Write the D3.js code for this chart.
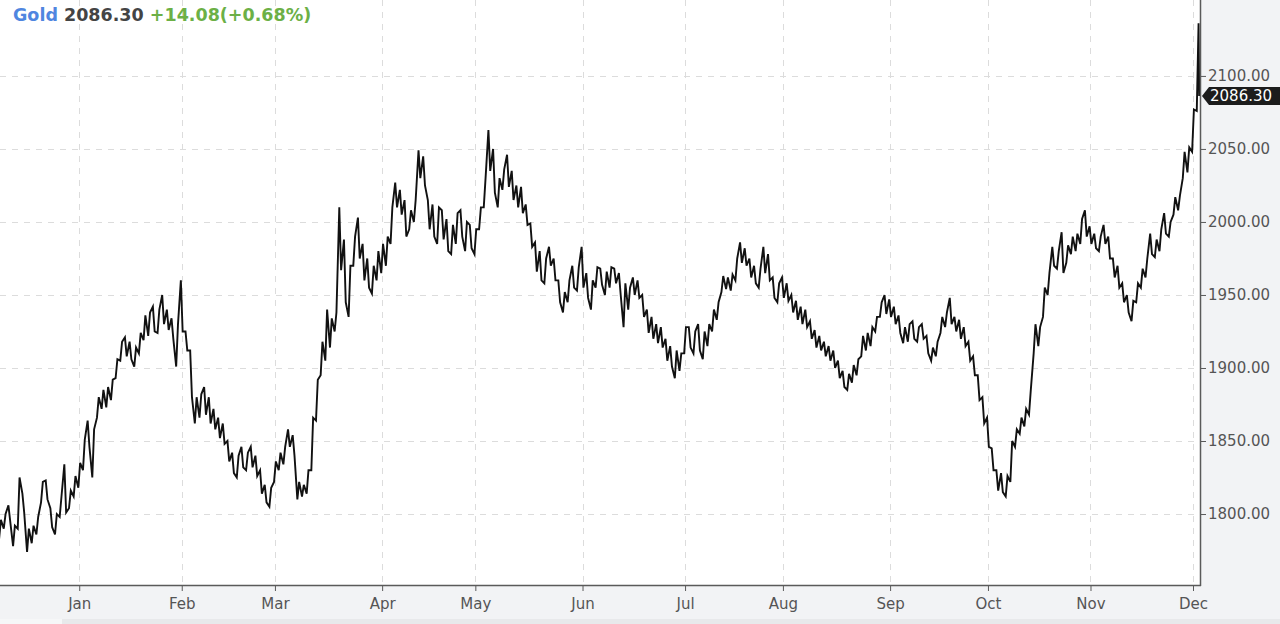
<!DOCTYPE html>
<html>
<head>
<meta charset="utf-8">
<script src="https://cdn.jsdelivr.net/npm/d3@7"></script>
<style>
	html, body { margin: 0; padding: 0; background: #f2f3f5; }
	svg { display: block; font-family: 'DejaVu Sans', sans-serif; }
</style>
</head>
<body>
<div id="chart"></div>
<script>
'use strict';

// first trading day shown (weekdays only on the x axis)
var startDate = new Date(2022, 11, 8);

// daily low / high, one entry per trading day
var lows = [
	1783, 1790, 1795, 1778, 1790, 1801, 1774, 1780, 1786, 1808,
	1810, 1791, 1786, 1798, 1801, 1804, 1812, 1818, 1830, 1846,
	1825, 1866, 1872, 1873, 1878, 1893, 1905, 1908, 1906, 1901,
	1910, 1919, 1922, 1925, 1924, 1930, 1926, 1920, 1901, 1925,
	1912, 1880, 1862, 1866, 1868, 1862, 1858, 1852, 1848, 1836,
	1828, 1825, 1832, 1830, 1832, 1826, 1814, 1808, 1805, 1822,
	1830, 1834, 1846, 1840, 1810, 1812, 1814, 1830, 1864, 1895,
	1905, 1914, 1925, 1967, 1945, 1935, 1970, 1975, 1960, 1955,
	1951, 1960, 1965, 1970, 1985, 2010, 2005, 1990, 1995, 2000,
	2030, 2025, 1995, 1990, 1985, 1988, 1980, 1978, 1985, 1990,
	1980, 1982, 1978, 1995, 2010, 2035, 2020, 2010, 2022, 2024,
	2015, 2010, 2006, 1998, 1983, 1966, 1960, 1958, 1970, 1960,
	1945, 1938, 1945, 1955, 1953, 1955, 1948, 1940, 1955, 1957,
	1950, 1955, 1958, 1950, 1928, 1940, 1950, 1948, 1935, 1924,
	1920, 1917, 1914, 1905, 1901, 1893, 1898, 1910, 1914, 1910,
	1912, 1906, 1915, 1925, 1933, 1952, 1954, 1953, 1960, 1972,
	1970, 1962, 1958, 1955, 1965, 1960, 1948, 1945, 1948, 1946,
	1938, 1933, 1930, 1928, 1920, 1914, 1912, 1908, 1905, 1900,
	1893, 1887, 1885, 1890, 1895, 1908, 1912, 1915, 1925, 1935,
	1937, 1935, 1930, 1924, 1917, 1918, 1920, 1918, 1920, 1910,
	1905, 1908, 1924, 1928, 1930, 1925, 1920, 1915, 1905, 1895,
	1878, 1862, 1846, 1830, 1816, 1815, 1812, 1822, 1846, 1855,
	1860, 1868, 1910, 1915, 1935, 1950, 1970, 1968, 1965, 1972,
	1978, 1980, 1985, 1990, 1985, 1982, 1980, 1985, 1975, 1962,
	1955, 1945, 1938, 1932, 1945, 1955, 1962, 1978, 1976, 1980,
	1992, 1990, 2005, 2008, 2030, 2034, 2048, 2076
];

var highs = [
	1796, 1800, 1806, 1792, 1825, 1814, 1790, 1792, 1798, 1822,
	1823, 1804, 1800, 1812, 1834, 1816, 1826, 1835, 1851, 1864,
	1858, 1880, 1885, 1887, 1892, 1906, 1918, 1921, 1918, 1914,
	1924, 1936, 1938, 1942, 1940, 1950, 1940, 1934, 1930, 1960,
	1925, 1912, 1880, 1882, 1887, 1880, 1872, 1866, 1862, 1850,
	1842, 1840, 1846, 1842, 1846, 1840, 1830, 1820, 1818, 1836,
	1842, 1846, 1858, 1854, 1822, 1820, 1830, 1866, 1892, 1918,
	1940, 1934, 1938, 2010, 1988, 1970, 1990, 2003, 1985, 1975,
	1970, 1980, 1985, 1990, 2010, 2027, 2022, 2015, 2008, 2015,
	2049, 2045, 2015, 2012, 2010, 2008, 2002, 1998, 2006, 2008,
	2000, 1998, 1995, 2010, 2030, 2063, 2050, 2030, 2036, 2046,
	2035, 2025, 2024, 2012, 1999, 1986, 1980, 1975, 1983, 1975,
	1960, 1952, 1960, 1970, 1969, 1983, 1965, 1960, 1969, 1968,
	1966, 1969, 1968, 1965, 1958, 1955, 1962, 1960, 1950, 1940,
	1935, 1930, 1928, 1920, 1915, 1912, 1910, 1928, 1928, 1925,
	1930, 1925, 1930, 1940, 1945, 1963, 1962, 1964, 1975, 1986,
	1982, 1975, 1970, 1968, 1983, 1978, 1962, 1958, 1962, 1958,
	1950, 1946, 1942, 1940, 1932, 1926, 1922, 1918, 1915, 1912,
	1905, 1898, 1896, 1902, 1906, 1922, 1924, 1928, 1935, 1945,
	1950, 1947, 1942, 1936, 1928, 1930, 1932, 1928, 1930, 1922,
	1914, 1918, 1935, 1938, 1948, 1935, 1933, 1928, 1918, 1908,
	1895, 1880, 1866, 1845, 1830, 1828, 1826, 1850, 1858, 1866,
	1872, 1885, 1930, 1928, 1955, 1965, 1983, 1980, 1993, 1984,
	1990, 1992, 2002, 2008, 1997, 1992, 1990, 1998, 1990, 1975,
	1970, 1958, 1950, 1946, 1958, 1968, 1975, 1992, 1988, 1995,
	2006, 2000, 2017, 2018, 2048, 2051, 2077, 2136
];

var lastClose = 2086.30,
		change = 14.08,
		changePct = 0.68,
		symbol = 'Gold';

var priceTicks = [1800, 1850, 1900, 1950, 2000, 2050, 2100];
var monthNames = ['Jan', 'Feb', 'Mar', 'Apr', 'May', 'Jun',
									'Jul', 'Aug', 'Sep', 'Oct', 'Nov', 'Dec'];
var priceRange = [1751.4, 2152];

function tradingDays (start, n)	{
	var days = [],
			d = new Date(start);

	while (days.length < n)	{
		if (d.getDay() !== 0 && d.getDay() !== 6)	{
			days.push(new Date(d));
		}
		d.setDate(d.getDate() + 1);
	}

	return days;
};

function monthStarts (days)	{
	var result = [];

	for (var i = 1, l = days.length; i < l; i++)	{
		if (days[i].getMonth() !== days[i - 1].getMonth())	{
			result.push({ idx: i, label: monthNames[days[i].getMonth()] });
		}
	}

	return result;
};

// each day is drawn as a near-vertical stroke from low to high (or back)
function zigzag (x, y)	{
	var pts = [],
			half = 0.9;

	for (var i = 0, l = lows.length; i < l; i++)	{
		var mid = (lows[i] + highs[i]) / 2,
				next = i < l - 1 ? (lows[i + 1] + highs[i + 1]) / 2 : Infinity,
				up = next >= mid;

		pts.push([x(i) - half, y(up ? lows[i] : highs[i])]);
		pts.push([x(i) + half, y(up ? highs[i] : lows[i])]);
	}
	pts.push([x(lows.length - 1) + 1.5, y(lastClose)]);

	return pts;
};

function draw ()	{
	var width = 1280,
			height = 624,
			plotW = 1200,
			plotH = 585;

	var days = tradingDays(startDate, lows.length),
			months = monthStarts(days);

	var x = d3.scaleLinear().domain([0, lows.length - 0.5]).range([0, plotW]),
			y = d3.scaleLinear().domain(priceRange).range([plotH, 0]);

	var svg = d3.select('#chart').append('svg')
							.attr('width', width)
							.attr('height', height);

	svg.append('rect')
		 .attr('width', width)
		 .attr('height', height)
		 .attr('fill', '#f2f3f5');

	// scrollbar strip at the very bottom
	svg.append('rect')
		 .attr('y', 619)
		 .attr('width', width)
		 .attr('height', 5)
		 .attr('fill', '#e8e9eb');
	svg.append('rect')
		 .attr('y', 619)
		 .attr('width', 62)
		 .attr('height', 5)
		 .attr('fill', '#f6f7f8');

	svg.append('rect')
		 .attr('width', plotW)
		 .attr('height', plotH)
		 .attr('fill', '#ffffff');

	var grid = svg.append('g')
								.attr('stroke', '#dcdcdc')
								.attr('stroke-width', 1)
								.attr('stroke-dasharray', '6,6');

	grid.selectAll('.hgrid')
			.data(priceTicks)
			.enter().append('line')
			.attr('x1', 0)
			.attr('x2', plotW)
			.attr('y1', function (d) { return Math.round(y(d)) + 0.5; })
			.attr('y2', function (d) { return Math.round(y(d)) + 0.5; });

	grid.selectAll('.vgrid')
			.data(months)
			.enter().append('line')
			.attr('x1', function (d) { return Math.round(x(d.idx)) + 0.5; })
			.attr('x2', function (d) { return Math.round(x(d.idx)) + 0.5; })
			.attr('y1', 0)
			.attr('y2', plotH);

	svg.append('path')
		 .datum(zigzag(x, y))
		 .attr('fill', 'none')
		 .attr('stroke', '#111')
		 .attr('stroke-width', 1.9)
		 .attr('stroke-linejoin', 'miter')
		 .attr('d', d3.line());

	// frame
	svg.append('line')
		 .attr('x1', plotW + 0.5).attr('x2', plotW + 0.5)
		 .attr('y1', 0).attr('y2', plotH + 1)
		 .attr('stroke', '#5a5a5a')
		 .attr('stroke-width', 1.5);
	svg.append('line')
		 .attr('x1', 0).attr('x2', plotW + 1)
		 .attr('y1', plotH + 0.5).attr('y2', plotH + 0.5)
		 .attr('stroke', '#5a5a5a')
		 .attr('stroke-width', 1.5);

	var yAxis = svg.append('g')
								 .attr('transform', 'translate(' + (plotW + 1) + ',0)')
								 .call(d3.axisRight(y)
												 .tickValues(priceTicks)
												 .tickSize(5)
												 .tickPadding(2)
												 .tickFormat(d3.format('.2f')));
	yAxis.select('.domain').remove();
	yAxis.selectAll('line').attr('stroke', '#5a5a5a');
	yAxis.selectAll('text')
			 .attr('fill', '#555')
			 .style('font-size', '15px')
			 .style('font-family', 'DejaVu Sans');

	var xAxis = svg.append('g')
								 .attr('transform', 'translate(0,' + (plotH + 1) + ')')
								 .call(d3.axisBottom(x)
												 .tickValues(months.map(function (d) { return d.idx; }))
												 .tickSize(5)
												 .tickPadding(7)
												 .tickFormat(function (d, i) { return months[i].label; }));
	xAxis.select('.domain').remove();
	xAxis.selectAll('line').attr('stroke', '#5a5a5a');
	xAxis.selectAll('text')
			 .attr('fill', '#555')
			 .style('font-size', '15px')
			 .style('font-family', 'DejaVu Sans');

	// last price tag
	var ty = y(lastClose),
			tag = svg.append('g');

	tag.append('path')
		 .attr('d', 'M' + (plotW + 2) + ',' + ty +
								' L' + (plotW + 9) + ',' + (ty - 9) +
								' L' + width + ',' + (ty - 9) +
								' L' + width + ',' + (ty + 9) +
								' L' + (plotW + 9) + ',' + (ty + 9) + ' Z')
		 .attr('fill', '#1c1c1c');
	tag.append('text')
		 .attr('x', plotW + 10)
		 .attr('y', ty)
		 .attr('dy', '0.36em')
		 .attr('fill', '#fff')
		 .style('font-size', '15px')
		 .text(d3.format('.2f')(lastClose));

	// header
	var title = svg.append('text')
								 .attr('x', 13)
								 .attr('y', 21)
								 .style('font-size', '17.5px')
								 .style('font-weight', 'bold');

	title.append('tspan')
			 .attr('fill', '#4f86e0')
			 .text(symbol + ' ');
	title.append('tspan')
			 .attr('fill', '#444')
			 .text(d3.format('.2f')(lastClose) + ' ');
	title.append('tspan')
			 .attr('fill', '#6cb046')
			 .text('+' + d3.format('.2f')(change) + '(+' + d3.format('.2f')(changePct) + '%)');
};

draw();
</script>
</body>
</html>
